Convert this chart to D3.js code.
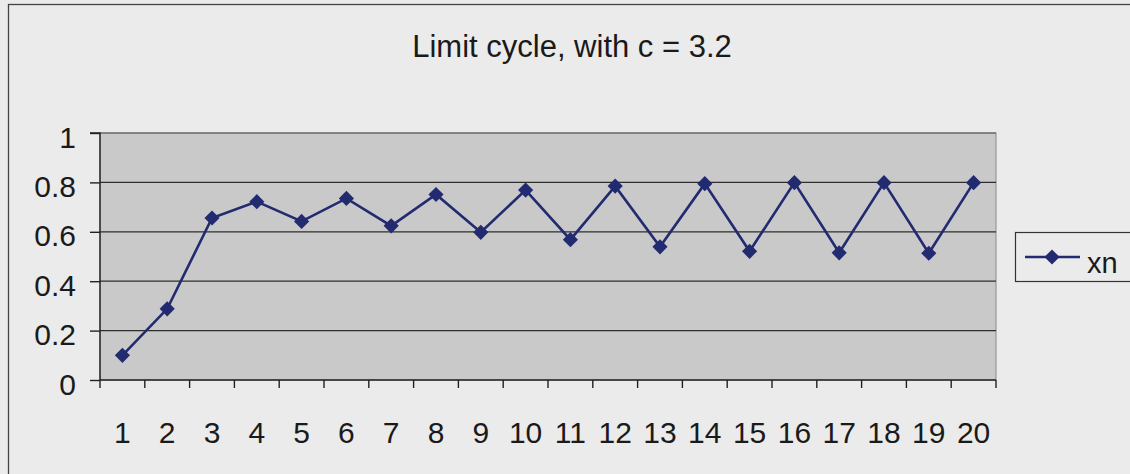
<!DOCTYPE html>
<html>
<head>
<meta charset="utf-8">
<script src="https://cdn.jsdelivr.net/npm/d3@7/dist/d3.min.js"></script>
<style>
  html, body { margin: 0; padding: 0; background: #ebebeb; }
  svg { display: block; }
  text { font-family: "Liberation Sans", Arial, sans-serif; fill: #1a1a1a; }
</style>
</head>
<body>
<svg id="chart" width="1130" height="474"></svg>
<script>
// Iteration index and the value xn at each step
const steps = ["1","2","3","4","5","6","7","8","9","10","11","12","13","14","15","16","17","18","19","20"];
const xn = [0.100, 0.288, 0.656, 0.722, 0.642, 0.735, 0.624, 0.751, 0.598, 0.769,
            0.568, 0.785, 0.539, 0.795, 0.521, 0.799, 0.515, 0.799, 0.513, 0.799];
const yTicks = [0, 0.2, 0.4, 0.6, 0.8, 1];
const titleText = "Limit cycle, with c = 3.2";
const seriesName = "xn";

const svg = d3.select("#chart");
const W = 1130, H = 474;
const plot = { left: 100, top: 133, right: 996, bottom: 380 };
const lineColor = "#222a70";
const axisColor = "#222";

// outer chart frame
svg.append("rect").attr("x", 0).attr("y", 0).attr("width", W).attr("height", H).attr("fill", "#ebebeb");
svg.append("rect").attr("x", 8.5).attr("y", 4.5).attr("width", W + 10).attr("height", H + 10)
  .attr("fill", "none").attr("stroke", "#444").attr("stroke-width", 1.3);

const x = d3.scaleBand().domain(steps).range([plot.left, plot.right]);
const y = d3.scaleLinear().domain([0, 1]).range([plot.bottom, plot.top]);

// plot area
svg.append("rect").attr("x", plot.left).attr("y", plot.top)
  .attr("width", plot.right - plot.left).attr("height", plot.bottom - plot.top)
  .attr("fill", "#c9c9c9").attr("stroke", "#8a8a8a").attr("stroke-width", 1);

// horizontal gridlines
svg.append("g").selectAll("line").data(yTicks.filter(d => d > 0 && d < 1)).join("line")
  .attr("x1", plot.left).attr("x2", plot.right)
  .attr("y1", d => y(d)).attr("y2", d => y(d))
  .attr("stroke", "#2e2e2e").attr("stroke-width", 1.2);
svg.append("line").attr("x1", plot.left).attr("x2", plot.right)
  .attr("y1", y(1)).attr("y2", y(1)).attr("stroke", "#555").attr("stroke-width", 1.2);

// y axis
const yAxis = d3.axisLeft(y).tickValues(yTicks).tickSize(10).tickPadding(14)
  .tickFormat(d => d3.format("")(d));
const gy = svg.append("g").attr("transform", `translate(${plot.left},0)`).call(yAxis);
gy.select(".domain").attr("stroke", axisColor).attr("stroke-width", 1.4)
  .attr("d", `M-10,${plot.top}H0V${plot.bottom}`);
gy.selectAll(".tick line").attr("stroke", axisColor).attr("stroke-width", 1.4);
gy.selectAll(".tick text").attr("font-size", 30).attr("fill", "#1a1a1a")
  .attr("font-family", "'Liberation Sans', Arial, sans-serif")
  .attr("x", -24).attr("dy", null).attr("y", 14);

// x axis: ticks on category boundaries, labels centred in each category
const gx = svg.append("g").attr("transform", `translate(0,${plot.bottom})`);
gx.append("line").attr("x1", plot.left).attr("x2", plot.right).attr("y1", 0).attr("y2", 0)
  .attr("stroke", axisColor).attr("stroke-width", 1.4);
const bounds = steps.map(s => x(s)).concat([x(steps[steps.length - 1]) + x.bandwidth()]);
gx.selectAll("line.tk").data(bounds).join("line").attr("class", "tk")
  .attr("x1", d => d).attr("x2", d => d).attr("y1", 0).attr("y2", 8)
  .attr("stroke", axisColor).attr("stroke-width", 1.4);
gx.selectAll("text").data(steps).join("text")
  .attr("x", d => x(d) + x.bandwidth() / 2).attr("y", 63)
  .attr("text-anchor", "middle").attr("font-size", 30).text(d => d);

// series line and diamond markers
const cx = (d, i) => x(steps[i]) + x.bandwidth() / 2;
svg.append("path").datum(xn)
  .attr("d", d3.line().x(cx).y(d => y(d)))
  .attr("fill", "none").attr("stroke", lineColor).attr("stroke-width", 2.6);
const diamondPath = d3.symbol().type(d3.symbolSquare).size(115)();
svg.append("g").selectAll("path").data(xn).join("path")
  .attr("d", diamondPath)
  .attr("transform", (d, i) => `translate(${cx(d, i)},${y(d)}) rotate(45)`)
  .attr("fill", lineColor);

// title
svg.append("text").attr("x", 572).attr("y", 57).attr("text-anchor", "middle")
  .attr("font-size", 31).text(titleText);

// legend
const lg = svg.append("g");
lg.append("rect").attr("x", 1015.5).attr("y", 232.5).attr("width", 130).attr("height", 49)
  .attr("fill", "#ebebeb").attr("stroke", "#333").attr("stroke-width", 1.2);
lg.append("line").attr("x1", 1025).attr("x2", 1080).attr("y1", 257).attr("y2", 257)
  .attr("stroke", lineColor).attr("stroke-width", 2.6);
lg.append("path").attr("d", diamondPath)
  .attr("transform", "translate(1052,257) rotate(45)").attr("fill", lineColor);
lg.append("text").attr("x", 1087).attr("y", 273).attr("font-size", 29).text(seriesName);
</script>
</body>
</html>
